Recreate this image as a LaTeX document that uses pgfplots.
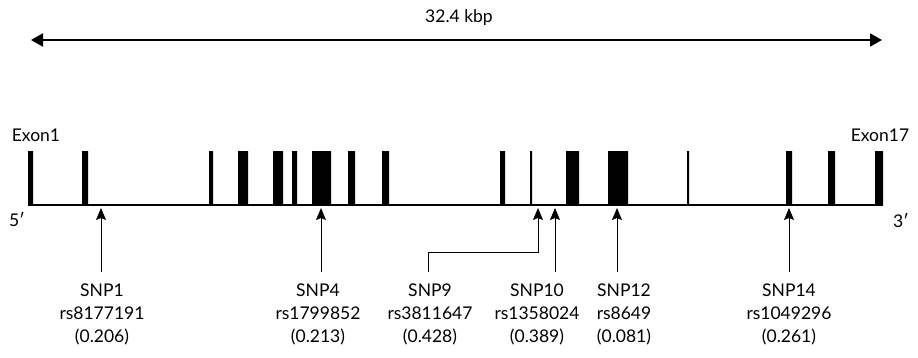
\documentclass[border=0pt]{standalone}
\usepackage{pgfplots}
\pgfplotsset{compat=1.18}
\usepackage{fontspec}
\setmainfont{Lato}
\usetikzlibrary{arrows.meta}
\tikzset{lab/.style={font=\fontsize{17.5}{23}\selectfont, inner sep=0pt}}
\begin{document}
\begin{tikzpicture}
\begin{axis}[
  width=918pt, height=357pt, scale only axis,
  xmin=0, xmax=918, ymin=0, ymax=357,
  hide axis, clip=false,
]
% invisible frame for bounding box
\addplot[draw=none] coordinates {(0,0) (918,357)};
% exons (pixel x ranges, y from baseline 152 to top 206)
\addplot[fill=black, draw=none] coordinates {
 (28,152) (28,206) (33,206) (33,152)
 (82,152) (82,206) (88,206) (88,152)
 (209,152) (209,206) (213,206) (213,152)
 (238,152) (238,206) (248,206) (248,152)
 (273,152) (273,206) (283,206) (283,152)
 (292,152) (292,206) (297,206) (297,152)
 (312,152) (312,206) (331,206) (331,152)
 (348,152) (348,206) (355,206) (355,152)
 (382,152) (382,206) (389,206) (389,152)
 (500,152) (500,206) (505,206) (505,152)
 (530,152) (530,206) (532,206) (532,152)
 (566,152) (566,206) (579,206) (579,152)
 (608,152) (608,206) (628,206) (628,152)
 (687,152) (687,206) (689,206) (689,152)
 (786,152) (786,206) (792,206) (792,152)
 (828,152) (828,206) (835,206) (835,152)
 (875,152) (875,206) (883,206) (883,152)
} -- cycle;
% baseline
\addplot[black, line width=2pt] coordinates {(28,152) (883,152)};
% top length arrow
\addplot[black, line width=2pt, {Triangle[length=12pt,width=13pt]}-{Triangle[length=12pt,width=13pt]}] coordinates {(31,317) (882,317)};
% SNP arrows
\pgfplotsset{snparrow/.style={black, line width=1pt, -{Stealth[length=12pt,width=10pt,inset=2pt]}}}
\addplot[snparrow] coordinates {(101,85) (101,149)};
\addplot[snparrow] coordinates {(321,85) (321,149)};
\addplot[snparrow] coordinates {(428,85) (428,105) (538,105) (538,149)};
\addplot[snparrow] coordinates {(555,85) (555,149)};
\addplot[snparrow] coordinates {(617,85) (617,149)};
\addplot[snparrow] coordinates {(789,85) (789,149)};
% texts
\node[lab] at (axis cs:459,339) {32.4 kbp};
\node[lab] at (axis cs:36,222) {Exon1};
\node[lab] at (axis cs:880,222) {Exon17};
\node[lab] at (axis cs:17,137) {5′};
\node[lab] at (axis cs:901,136) {3′};
\node[lab, align=center] at (axis cs:102,43) {SNP1\\rs8177191\\(0.206)};
\node[lab, align=center] at (axis cs:318,43) {SNP4\\rs1799852\\(0.213)};
\node[lab, align=center] at (axis cs:430,43) {SNP9\\rs3811647\\(0.428)};
\node[lab, align=center] at (axis cs:537,43) {SNP10\\rs1358024\\(0.389)};
\node[lab, align=center] at (axis cs:624,43) {SNP12\\rs8649\\(0.081)};
\node[lab, align=center] at (axis cs:789,43) {SNP14\\rs1049296\\(0.261)};
\end{axis}
\end{tikzpicture}
\end{document}
